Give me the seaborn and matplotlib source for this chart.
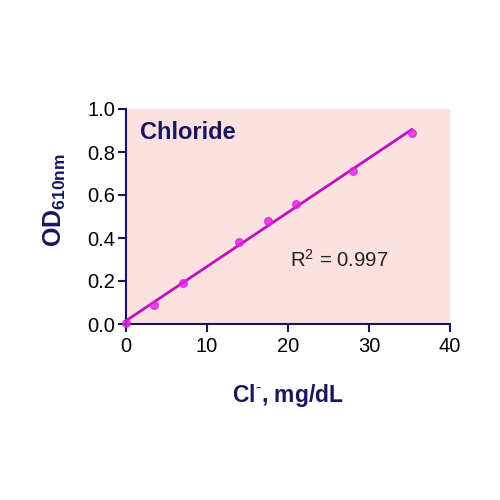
import numpy as np
import pandas as pd
import matplotlib
matplotlib.use('Agg')
import matplotlib.pyplot as plt
import seaborn as sns

# Chloride standard curve
cl_conc = [0, 3.5, 7, 14, 17.5, 21, 28, 35.3]
od_610 = [0.005, 0.09, 0.19, 0.38, 0.48, 0.56, 0.71, 0.89]
r2_text = 'R$^2$ = 0.997'
title_text = 'Chloride'

df = pd.DataFrame({'cl': cl_conc, 'od': od_610})

sns.set_style('white')
plt.rcParams['font.family'] = ['Liberation Sans', 'DejaVu Sans']
plt.rcParams['mathtext.fontset'] = 'custom'
plt.rcParams['mathtext.rm'] = 'Liberation Sans'
plt.rcParams['mathtext.bf'] = 'Liberation Sans:bold'

navy = '#17175f'

fig = plt.figure(figsize=(5, 5), dpi=100)
ax = fig.add_axes([0.252, 0.352, 0.648, 0.43])
ax.set_facecolor('#fde1e1')

sns.regplot(data=df, x='cl', y='od', ax=ax, ci=None,
            scatter_kws={'s': 30, 'color': '#e020e0', 'zorder': 3, 'clip_on': False},
            line_kws={'color': '#c010c0', 'lw': 2})

ax.set_xlim(0, 40)
ax.set_ylim(0, 1.0)
ax.set_xticks(np.arange(0, 41, 10))
ax.set_yticks(np.arange(0, 1.01, 0.2))
ax.yaxis.set_major_formatter(matplotlib.ticker.FormatStrFormatter('%.1f'))

for s in ['top', 'right']:
    ax.spines[s].set_visible(False)
for s in ['left', 'bottom']:
    ax.spines[s].set_color(navy)
    ax.spines[s].set_linewidth(1.5)

ax.tick_params(axis='both', which='major', direction='out', length=6, width=1.5,
               color=navy, labelsize=14.5, labelcolor='black', left=True, bottom=True)
ax.tick_params(axis='x', pad=3)
ax.tick_params(axis='y', pad=2)

ax.set_xlabel(r'$\mathbf{Cl^{\text{-}}}$, mg/dL', fontsize=16.5, fontweight='bold', color=navy)
ax.set_ylabel(r'$\mathbf{OD_{610nm}}$', fontsize=18, color=navy)
ax.xaxis.set_label_coords(0.5, -0.272)
ax.yaxis.set_label_coords(-0.18, 0.577)

ax.text(1.7, 0.89, title_text, fontsize=17, fontweight='bold', color=navy, va='center')
ax.text(20.2, 0.30, r2_text, fontsize=14.7, color='#222222', va='center')

plt.savefig('out.png', dpi=100, facecolor='white')
